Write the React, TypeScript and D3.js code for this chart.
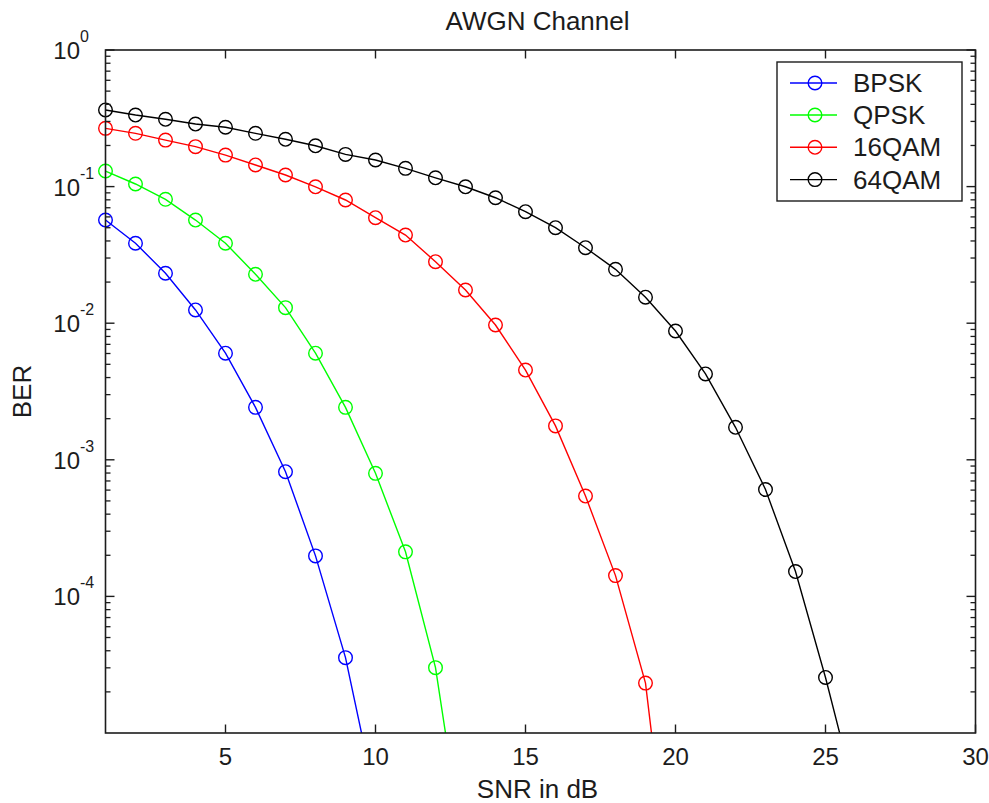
import React from "react";
import * as d3 from "d3";

const title = "AWGN Channel";
const xLabel = "SNR in dB";
const yLabel = "BER";

const snrBPSK = [1, 2, 3, 4, 5, 6, 7, 8, 9, 10];
const berBPSK = [0.0569, 0.0385, 0.0232, 0.0125, 0.00603, 0.00242, 8.18e-4, 1.98e-4, 3.56e-5, 3.3e-6];

const snrQPSK = [1, 2, 3, 4, 5, 6, 7, 8, 9, 10, 11, 12, 13];
const berQPSK = [0.13, 0.1045, 0.0807, 0.0569, 0.0385, 0.0228, 0.013, 0.00603, 0.00242, 7.96e-4, 2.12e-4, 3.01e-5, 1.1e-6];

const snr16QAM = [1, 2, 3, 4, 5, 6, 7, 8, 9, 10, 11, 12, 13, 14, 15, 16, 17, 18, 19, 20];
const ber16QAM = [0.267, 0.2455, 0.219, 0.196, 0.17, 0.144, 0.1216, 0.0997, 0.0798, 0.0592, 0.0442, 0.0282, 0.0175, 0.0097, 0.00454, 0.00177, 5.43e-4, 1.42e-4, 2.32e-5, 3.4e-7];

const snr64QAM = [1, 2, 3, 4, 5, 6, 7, 8, 9, 10, 11, 12, 13, 14, 15, 16, 17, 18, 19, 20, 21, 22, 23, 24, 25, 26];
const ber64QAM = [0.364, 0.334, 0.311, 0.287, 0.272, 0.2455, 0.222, 0.199, 0.172, 0.1566, 0.136, 0.116, 0.0997, 0.0829, 0.0655, 0.05, 0.0357, 0.0248, 0.0155, 0.00877, 0.00425, 0.00173, 6.06e-4, 1.52e-4, 2.55e-5, 3.5e-6];

const seriesNames = ["BPSK", "QPSK", "16QAM", "64QAM"];
const seriesColors = ["#0000ff", "#00ff00", "#ff0000", "#000000"];
const seriesX = [snrBPSK, snrQPSK, snr16QAM, snr64QAM];
const seriesY = [berBPSK, berQPSK, ber16QAM, ber64QAM];

const xTicks = [5, 10, 15, 20, 25, 30];
const yTickExps = [0, -1, -2, -3, -4];

const W = 989;
const H = 803;
const L = 105.5;
const R = 975.5;
const T = 50;
const B = 733;
const FONT = "'Liberation Sans', Arial, Helvetica, sans-serif";
const AX = "#1c1c1c";

export default function App() {
  const x = d3.scaleLinear().domain([1, 30]).range([L, R]);
  const y = d3.scaleLog().domain([1e-5, 1]).range([B, T]);
  const line = d3
    .line<[number, number]>()
    .x((d) => x(d[0]))
    .y((d) => y(d[1]));

  const minor: number[] = [];
  for (let e = -5; e < 0; e++) {
    for (let m = 2; m <= 9; m++) minor.push(m * Math.pow(10, e));
  }

  const legX = 777;
  const legY = 62;
  const legW = 185;
  const legH = 139;
  const legRowY = [83, 115, 147.3, 179.6];

  return (
    <svg
      width={W}
      height={H}
      style={{ position: "absolute", left: 0, top: 0, background: "#fff" }}
      fontFamily={FONT}
    >
      <rect x={0} y={0} width={W} height={H} fill="#fff" />
      <defs>
        <clipPath id="plotclip">
          <rect x={L} y={T} width={R - L} height={B - T} />
        </clipPath>
      </defs>

      {/* series */}
      {seriesNames.map((name, i) => {
        const pts: [number, number][] = seriesX[i].map((v, j) => [v, seriesY[i][j]]);
        const visible = pts.filter((p) => p[1] >= 1e-5);
        return (
          <g key={name}>
            <path
              d={line(pts) || ""}
              fill="none"
              stroke={seriesColors[i]}
              strokeWidth={1.4}
              clipPath="url(#plotclip)"
            />
            {visible.map((p, j) => (
              <circle
                key={j}
                cx={x(p[0])}
                cy={y(p[1])}
                r={6.8}
                fill="none"
                stroke={seriesColors[i]}
                strokeWidth={1.4}
              />
            ))}
          </g>
        );
      })}

      {/* axes box */}
      <rect x={L} y={T} width={R - L} height={B - T} fill="none" stroke={AX} strokeWidth={1.6} />

      {/* x ticks */}
      {xTicks.map((t) => (
        <g key={"x" + t}>
          <line x1={x(t)} x2={x(t)} y1={B} y2={B - 8.5} stroke={AX} strokeWidth={1.4} />
          <line x1={x(t)} x2={x(t)} y1={T} y2={T + 8.5} stroke={AX} strokeWidth={1.4} />
          <text x={x(t)} y={765} textAnchor="middle" fontSize={24} fill={AX}>
            {t}
          </text>
        </g>
      ))}

      {/* y major ticks */}
      {yTickExps.map((e) => {
        const yy = y(Math.pow(10, e));
        return (
          <g key={"y" + e}>
            <line x1={L} x2={L + 9} y1={yy} y2={yy} stroke={AX} strokeWidth={1.4} />
            <line x1={R} x2={R - 9} y1={yy} y2={yy} stroke={AX} strokeWidth={1.4} />
            <text x={80} y={yy + 9} textAnchor="end" fontSize={24} fill={AX}>
              10
            </text>
            <text x={80} y={yy - 8} textAnchor="start" fontSize={16} fill={AX}>
              {e === 0 ? "0" : "-" + Math.abs(e)}
            </text>
          </g>
        );
      })}

      {/* y minor ticks */}
      {minor.map((m, k) => (
        <g key={"m" + k}>
          <line x1={L} x2={L + 5} y1={y(m)} y2={y(m)} stroke={AX} strokeWidth={1.3} />
          <line x1={R} x2={R - 5} y1={y(m)} y2={y(m)} stroke={AX} strokeWidth={1.3} />
        </g>
      ))}

      {/* labels */}
      <text x={(L + R) / 2 - 3} y={30} textAnchor="middle" fontSize={26} fill={AX}>
        {title}
      </text>
      <text x={(L + R) / 2 - 3} y={798} textAnchor="middle" fontSize={26} fill={AX}>
        {xLabel}
      </text>
      <text
        transform={`translate(31,${(T + B) / 2}) rotate(-90)`}
        textAnchor="middle"
        fontSize={26}
        fill={AX}
      >
        {yLabel}
      </text>

      {/* legend */}
      <rect x={legX} y={legY} width={legW} height={legH} fill="#fff" stroke={AX} strokeWidth={1.4} />
      {seriesNames.map((name, i) => (
        <g key={"leg" + name}>
          <line x1={790} x2={837} y1={legRowY[i]} y2={legRowY[i]} stroke={seriesColors[i]} strokeWidth={1.4} />
          <circle cx={815} cy={legRowY[i]} r={6.8} fill="none" stroke={seriesColors[i]} strokeWidth={1.4} />
          <text x={853} y={legRowY[i] + 9} fontSize={26} fill={AX}>
            {name}
          </text>
        </g>
      ))}
    </svg>
  );
}
